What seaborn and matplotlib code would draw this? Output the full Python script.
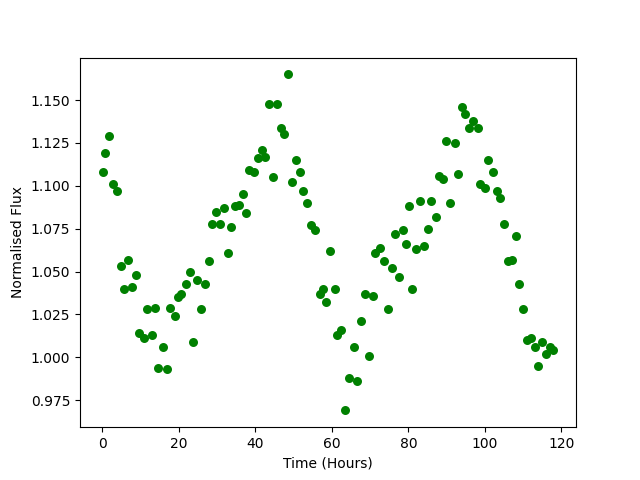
import numpy as np
import pandas as pd
import matplotlib
matplotlib.use("Agg")
import matplotlib.pyplot as plt
import seaborn as sns

# Light curve (time in hours, normalised flux)
time_hours = [
    0.1, 0.8, 1.8, 2.9, 4.0, 4.8, 5.8, 6.8, 7.9, 8.9,
    9.7, 10.8, 11.8, 12.9, 13.9, 14.7, 15.8, 16.9, 17.8, 19.0,
    19.8, 20.7, 21.8, 22.9, 23.7, 24.7, 25.8, 26.9, 27.9, 28.6,
    29.7, 30.8, 31.8, 32.9, 33.6, 34.6, 35.8, 36.8, 37.7, 38.4,
    39.6, 40.8, 41.8, 42.6, 43.6, 44.7, 45.7, 46.7, 47.4, 48.6,
    49.6, 50.7, 51.8, 52.5, 53.6, 54.6, 55.7, 56.8, 57.6, 58.5,
    59.6, 60.7, 61.4, 62.5, 63.5, 64.6, 65.7, 66.5, 67.6, 68.6,
    69.6, 70.7, 71.4, 72.5, 73.6, 74.6, 75.7, 76.4, 77.6, 78.6,
    79.5, 80.2, 81.0, 82.1, 83.1, 84.2, 85.0, 86.0, 87.1, 88.1,
    89.1, 89.9, 90.9, 92.1, 93.0, 94.1, 94.9, 95.9, 97.0, 98.1,
    98.7, 99.9, 100.9, 102.1, 103.1, 103.9, 104.9, 106.0, 107.1, 108.0,
    108.9, 109.9, 111.0, 112.0, 113.0, 113.9, 114.8, 115.9, 116.9, 117.9,
]
flux = [
    1.108, 1.119, 1.129, 1.101, 1.097, 1.053, 1.040, 1.057, 1.041, 1.048,
    1.014, 1.011, 1.028, 1.013, 1.029, 0.994, 1.006, 0.993, 1.029, 1.024,
    1.035, 1.037, 1.043, 1.050, 1.009, 1.045, 1.028, 1.043, 1.056, 1.078,
    1.085, 1.078, 1.087, 1.061, 1.076, 1.088, 1.089, 1.095, 1.084, 1.109,
    1.108, 1.116, 1.121, 1.117, 1.148, 1.105, 1.148, 1.134, 1.130, 1.165,
    1.102, 1.115, 1.108, 1.097, 1.090, 1.077, 1.074, 1.037, 1.040, 1.032,
    1.062, 1.040, 1.013, 1.016, 0.969, 0.988, 1.006, 0.986, 1.021, 1.037,
    1.001, 1.036, 1.061, 1.064, 1.056, 1.028, 1.052, 1.072, 1.047, 1.074,
    1.066, 1.088, 1.040, 1.063, 1.091, 1.065, 1.075, 1.091, 1.082, 1.106,
    1.104, 1.126, 1.090, 1.125, 1.107, 1.146, 1.142, 1.134, 1.138, 1.134,
    1.101, 1.099, 1.115, 1.108, 1.097, 1.093, 1.078, 1.056, 1.057, 1.071,
    1.043, 1.028, 1.010, 1.011, 1.006, 0.995, 1.009, 1.002, 1.006, 1.004,
]

df = pd.DataFrame({"time": time_hours, "flux": flux})

fig, ax = plt.subplots(figsize=(6.4, 4.8), dpi=100)
sns.scatterplot(data=df, x="time", y="flux", color="green",
                s=42, linewidth=0, ax=ax)
ax.set_xlabel("Time (Hours)")
ax.set_ylabel("Normalised Flux")
fig.savefig("out.png", dpi=100)
